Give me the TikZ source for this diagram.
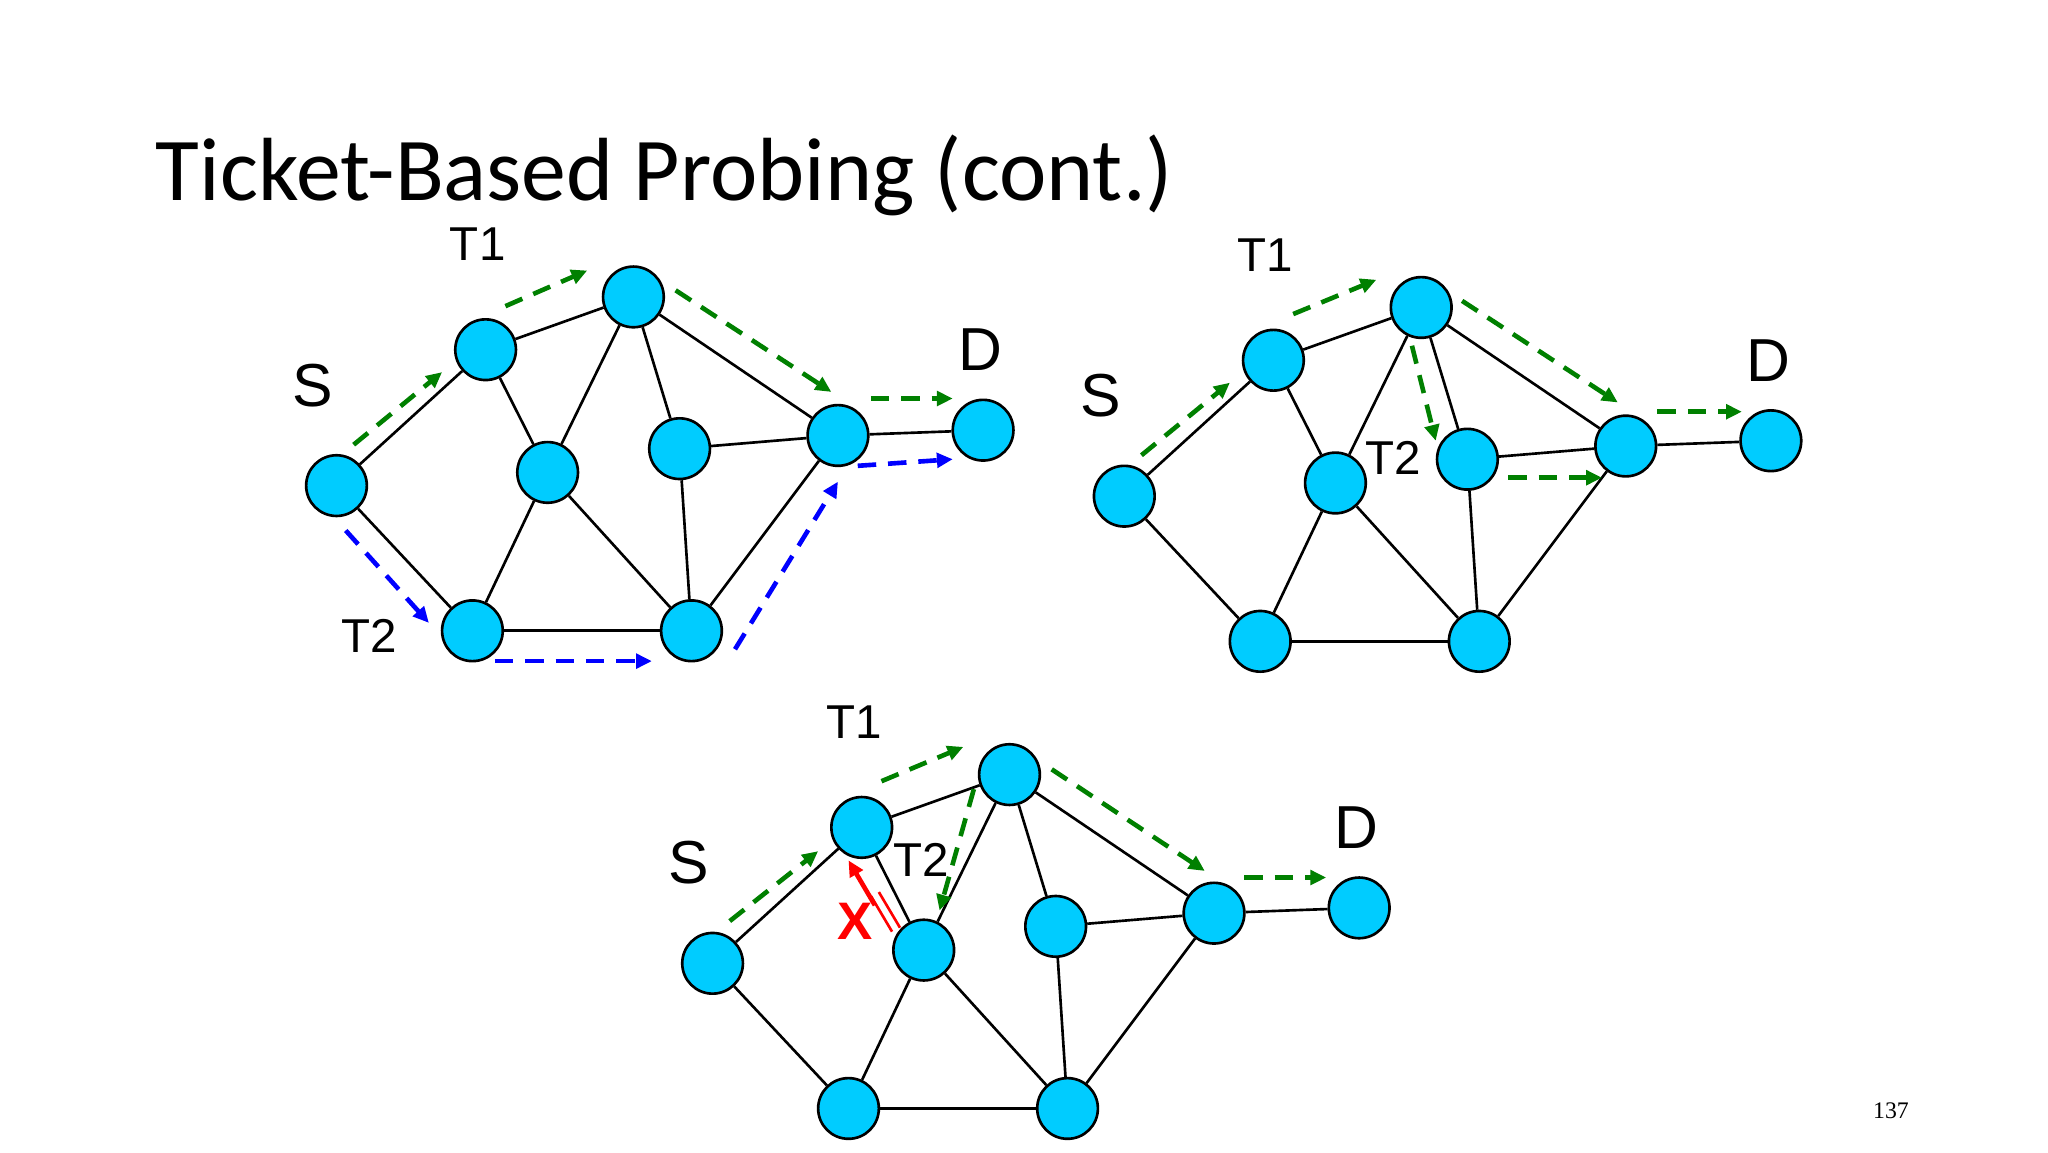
\documentclass[tikz,border=0pt]{standalone}
\usepackage{fontspec}
\setmainfont{Liberation Sans}
\newfontfamily\titlefont{Carlito}
\newfontfamily\serifnum{Liberation Serif}
\usetikzlibrary{arrows.meta}
\definecolor{nodeblue}{RGB}{0,204,255}
\definecolor{tgreen}{RGB}{0,128,0}
\definecolor{tblue}{RGB}{0,0,255}
\begin{document}
\begin{tikzpicture}[x=1pt,y=-1pt,
  nd/.style={circle,draw=black,fill=nodeblue,line width=2pt,minimum size=46pt,inner sep=0pt},
  ed/.style={line width=2pt},
  tk/.style={line width=3.5pt,dash pattern=on 14pt off 9pt,-{Triangle[length=12pt,width=11pt]}},
  lbl/.style={font=\fontsize{46}{50}\selectfont,inner sep=0pt},
  tl/.style={font=\fontsize{36}{40}\selectfont,inner sep=0pt}]
\useasboundingbox (0,0) rectangle (1552,873);
\node[anchor=base west,inner sep=0pt,font=\titlefont\fontsize{68}{72}\selectfont] (title) at (118,152) {Ticket-Based Probing (cont.)};
\node[font=\serifnum\fontsize{18}{20}\selectfont] (pg) at (1433,842) {137};
% graph template
\newcommand{\graphbase}[1]{%
  \node[nd] (#1S) at (255,368) {};
  \node[nd] (#1A) at (368,265) {};
  \node[nd] (#1B) at (480,225) {};
  \node[nd] (#1C) at (415,358) {};
  \node[nd] (#1E) at (515,340) {};
  \node[nd] (#1F) at (635,330) {};
  \node[nd] (#1D) at (745,326) {};
  \node[nd] (#1G) at (358,478) {};
  \node[nd] (#1H) at (524,478) {};
  \begin{scope}[on background layer/.try]\end{scope}
  \foreach \a/\b in {S/A,A/B,A/C,B/C,B/E,B/F,C/G,C/H,E/F,E/H,F/H,F/D,S/G,G/H}
    \draw[ed] (#1\a) -- (#1\b);
  \node[lbl] (#1lS) at (237,292) {S};
  \node[lbl] (#1lD) at (743,265) {D};
  \node[tl] (#1lT1) at (362,185) {T1};
}
% graph 1
\begin{scope}
\graphbase{a}
\node[tl] (alT2) at (280,482) {T2};
\coordinate (a1) at (268,337); \coordinate (a2) at (335,282);
\coordinate (a3) at (383,232); \coordinate (a4) at (445,205);
\coordinate (a5) at (512,220); \coordinate (a6) at (630,297);
\coordinate (a7) at (660,302); \coordinate (a8) at (722,302);
\draw[tk,tgreen] (a1) -- (a2); \draw[tk,tgreen] (a3) -- (a4);
\draw[tk,tgreen] (a5) -- (a6); \draw[tk,tgreen] (a7) -- (a8);
\coordinate (b1) at (262,402); \coordinate (b2) at (325,472);
\coordinate (b3) at (375,501); \coordinate (b4) at (494,501);
\coordinate (b5) at (557,492); \coordinate (b6) at (635,365);
\coordinate (b7) at (650,353); \coordinate (b8) at (722,348);
\draw[tk,tblue] (b1) -- (b2); \draw[tk,tblue] (b3) -- (b4);
\draw[tk,tblue] (b5) -- (b6); \draw[tk,tblue] (b7) -- (b8);
\end{scope}
% graph 2
\begin{scope}[shift={(597,8)}]
\graphbase{b}
\node[tl] (blT2) at (459,339) {T2};
\coordinate (c1) at (268,337); \coordinate (c2) at (335,282);
\coordinate (c3) at (383,230); \coordinate (c4) at (446,204);
\coordinate (c5) at (511,220); \coordinate (c6) at (629,297);
\coordinate (c7) at (659,304); \coordinate (c8) at (723,304);
\coordinate (c9) at (473,254); \coordinate (c10) at (491,326);
\coordinate (c11) at (546,354); \coordinate (c12) at (617,354);
\draw[tk,tgreen] (c1) -- (c2); \draw[tk,tgreen] (c3) -- (c4);
\draw[tk,tgreen] (c5) -- (c6); \draw[tk,tgreen] (c7) -- (c8);
\draw[tk,tgreen] (c9) -- (c10); \draw[tk,tgreen] (c11) -- (c12);
\end{scope}
% graph 3
\begin{scope}[shift={(285,362)}]
\graphbase{c}
\node[tl] (clT2) at (413,290) {T2};
\coordinate (d1) at (268,336); \coordinate (d2) at (335,283);
\coordinate (d3) at (383,230); \coordinate (d4) at (445,204);
\coordinate (d5) at (512,221); \coordinate (d6) at (628,298);
\coordinate (d7) at (658,303); \coordinate (d8) at (720,303);
\coordinate (d9) at (453,236); \coordinate (d10) at (427,328);
\draw[tk,tgreen] (d1) -- (d2); \draw[tk,tgreen] (d3) -- (d4);
\draw[tk,tgreen] (d5) -- (d6); \draw[tk,tgreen] (d7) -- (d8);
\draw[tk,tgreen] (d9) -- (d10);
\coordinate (r1) at (378,324); \coordinate (r2) at (358,290);
\draw[line width=3.5pt,red,-{Triangle[length=12pt,width=11pt]}] (r1) -- (r2);
\node[font=\fontsize{40}{44}\selectfont\bfseries,text=red,inner sep=0pt] (cx) at (363,336) {X};
\coordinate (m1) at (375,317); \coordinate (m2) at (391,344);
\coordinate (m3) at (381,314); \coordinate (m4) at (397,341);
\draw[red,line width=2pt] (m1) -- (m2); \draw[red,line width=2pt] (m3) -- (m4);
\end{scope}
\end{tikzpicture}
\end{document}
